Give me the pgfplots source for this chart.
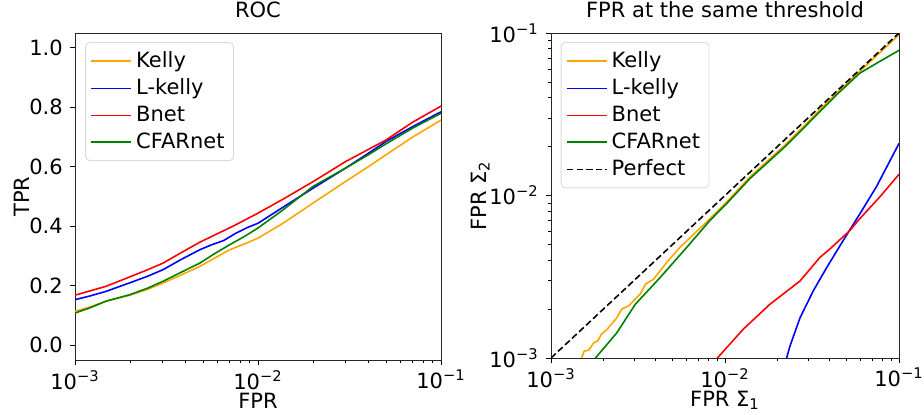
\documentclass[border=0pt]{standalone}
\usepackage{fontspec}
\setmainfont{DejaVu Sans}
\usepackage{pgfplots}
\pgfplotsset{compat=1.18}

\definecolor{mplorange}{HTML}{FFA500}
\definecolor{mplgreen}{HTML}{008000}

\newcommand{\figfont}{\fontsize{10.5}{12}\selectfont}

\pgfplotsset{
  panel/.style={
    scale only axis,
    tick align=outside,
    xtick pos=left, ytick pos=left,
    major tick length=2.6pt, minor tick length=1.5pt,
    every tick/.style={black, line width=0.4pt},
    axis line style={black!85, line width=0.45pt},
    tick label style={font=\figfont},
    xticklabel style={yshift=1pt},
    label style={font=\figfont},
    title style={font=\figfont, yshift=-2pt},
    xlabel style={yshift=5pt},
    ylabel style={yshift=-7pt},
    legend cell align=left,
    legend style={at={(0.028,0.972)}, anchor=north west, draw=black!15,
      rounded corners=2pt, font=\figfont,
      row sep=0.2pt, inner xsep=2.5pt, inner ysep=2.5pt},
    legend image code/.code={\draw[##1] (0pt,0pt) -- (20pt,0pt);},
    every axis plot/.append style={line width=0.8pt},
  }
}

\begin{document}
\begin{tikzpicture}
\useasboundingbox (0,0) rectangle (462pt,207pt);

% ROC
\begin{axis}[panel,
  at={(37.5pt,27pt)}, anchor=south west,
  width=183pt, height=163.5pt,
  xmode=log, xmin=1e-3, xmax=1e-1,
  ymin=-0.05, ymax=1.05,
  xtick={1e-3,1e-2,1e-1},
  xticklabels={10\textsuperscript{−3},10\textsuperscript{−2},10\textsuperscript{−1}},
  ytick={0,0.2,0.4,0.6,0.8,1.0},
  yticklabels={0.0,0.2,0.4,0.6,0.8,1.0},
  title={ROC}, xlabel={FPR}, ylabel={TPR},
]
\addplot[mplorange] coordinates {
  (1e-3,0.114) (1.2e-3,0.128) (1.48e-3,0.148) (2e-3,0.168) (2.5e-3,0.188)
  (3.03e-3,0.209) (3.8e-3,0.236) (4.81e-3,0.265) (5.8e-3,0.293)
  (7.01e-3,0.321) (8.4e-3,0.340) (1e-2,0.360) (1.37e-2,0.410) (2e-2,0.478)
  (3e-2,0.550) (4e-2,0.600) (5e-2,0.640) (7e-2,0.700) (0.1,0.757)
};
\addplot[blue] coordinates {
  (1e-3,0.153) (1.2e-3,0.165) (1.48e-3,0.181) (2e-3,0.210) (2.5e-3,0.232)
  (3.03e-3,0.254) (3.8e-3,0.288) (4.81e-3,0.321) (5.6e-3,0.338)
  (6.5e-3,0.352) (7.5e-3,0.375) (8.7e-3,0.395) (1e-2,0.410) (1.37e-2,0.464)
  (2e-2,0.528) (3e-2,0.595) (4e-2,0.645) (5e-2,0.685) (7e-2,0.735)
  (0.1,0.785)
};
\addplot[red] coordinates {
  (1e-3,0.168) (1.2e-3,0.182) (1.48e-3,0.198) (2e-3,0.230) (2.5e-3,0.254)
  (3.03e-3,0.276) (3.8e-3,0.311) (4.8e-3,0.346) (6e-3,0.375)
  (7.3e-3,0.400) (1e-2,0.444) (1.37e-2,0.491) (2e-2,0.550) (3e-2,0.617)
  (4e-2,0.658) (5e-2,0.690) (7e-2,0.750) (0.1,0.804)
};
\addplot[mplgreen] coordinates {
  (1e-3,0.108) (1.2e-3,0.125) (1.48e-3,0.148) (2e-3,0.170) (2.5e-3,0.192)
  (3.03e-3,0.215) (3.8e-3,0.245) (4.81e-3,0.276) (5.8e-3,0.308)
  (7.01e-3,0.338) (8.4e-3,0.365) (1e-2,0.394) (1.37e-2,0.455) (2e-2,0.534)
  (3e-2,0.595) (4e-2,0.640) (5e-2,0.677) (7e-2,0.730) (0.1,0.780)
};
\legend{Kelly,L-kelly,Bnet,CFARnet}
\end{axis}

% FPR at the same threshold
\begin{axis}[panel,
  at={(275.5pt,28pt)}, anchor=south west,
  width=174pt, height=162.5pt,
  xmode=log, ymode=log,
  xmin=1e-3, xmax=1e-1, ymin=1e-3, ymax=1e-1,
  xtick={1e-3,1e-2,1e-1},
  xticklabels={10\textsuperscript{−3},10\textsuperscript{−2},10\textsuperscript{−1}},
  ytick={1e-3,1e-2,1e-1},
  yticklabels={10\textsuperscript{−3},10\textsuperscript{−2},10\textsuperscript{−1}},
  title={FPR at the same threshold},
  xlabel={FPR Σ\textsubscript{1}}, ylabel={FPR Σ\textsubscript{2}},
]
\addplot[mplorange] coordinates {
  (1.5e-3,1e-3) (1.55e-3,1.1e-3) (1.65e-3,1.12e-3) (1.76e-3,1.24e-3)
  (1.85e-3,1.27e-3) (1.95e-3,1.4e-3) (2.1e-3,1.5e-3) (2.39e-3,1.77e-3)
  (2.55e-3,2.0e-3) (2.8e-3,2.1e-3) (3.25e-3,2.47e-3) (3.5e-3,2.85e-3)
  (3.88e-3,3.05e-3) (4.62e-3,3.87e-3) (5.5e-3,4.79e-3) (7.8e-3,6.84e-3)
  (1e-2,8.9e-3) (1.39e-2,1.3e-2) (2.26e-2,2.09e-2) (4.37e-2,4.26e-2)
  (0.1,9.76e-2)
};
\addplot[blue] coordinates {
  (2.26e-2,1e-3) (2.36e-2,1.18e-3) (2.7e-2,1.77e-3) (3.21e-2,2.58e-3)
  (3.84e-2,3.6e-3) (4.77e-2,5.27e-3) (5.95e-2,7.7e-3) (7.41e-2,1.13e-2)
  (0.1,2.09e-2)
};
\addplot[red] coordinates {
  (9.04e-3,1e-3) (1.27e-2,1.5e-3) (1.81e-2,2.14e-3) (2.7e-2,2.98e-3)
  (3.51e-2,4.16e-3) (4.0e-2,4.68e-3) (5.21e-2,6.08e-3) (5.95e-2,7.2e-3)
  (7.74e-2,9.77e-3) (0.1,1.35e-2)
};
\addplot[mplgreen] coordinates {
  (1.8e-3,1e-3) (2.39e-3,1.43e-3) (3.05e-3,2.14e-3) (4.24e-3,3.13e-3)
  (6.02e-3,4.79e-3) (8.17e-3,7.0e-3) (1.02e-2,8.9e-3) (1.39e-2,1.27e-2)
  (2.26e-2,2.04e-2) (4.37e-2,4.16e-2) (5.95e-2,5.66e-2) (7.74e-2,6.68e-2)
  (0.1,7.82e-2)
};
\addplot[black, dash pattern=on 3.2pt off 1.6pt, line width=0.8pt]
  coordinates {(1e-3,1e-3) (0.1,0.1)};
\legend{Kelly,L-kelly,Bnet,CFARnet,Perfect}
\end{axis}
\end{tikzpicture}
\end{document}
